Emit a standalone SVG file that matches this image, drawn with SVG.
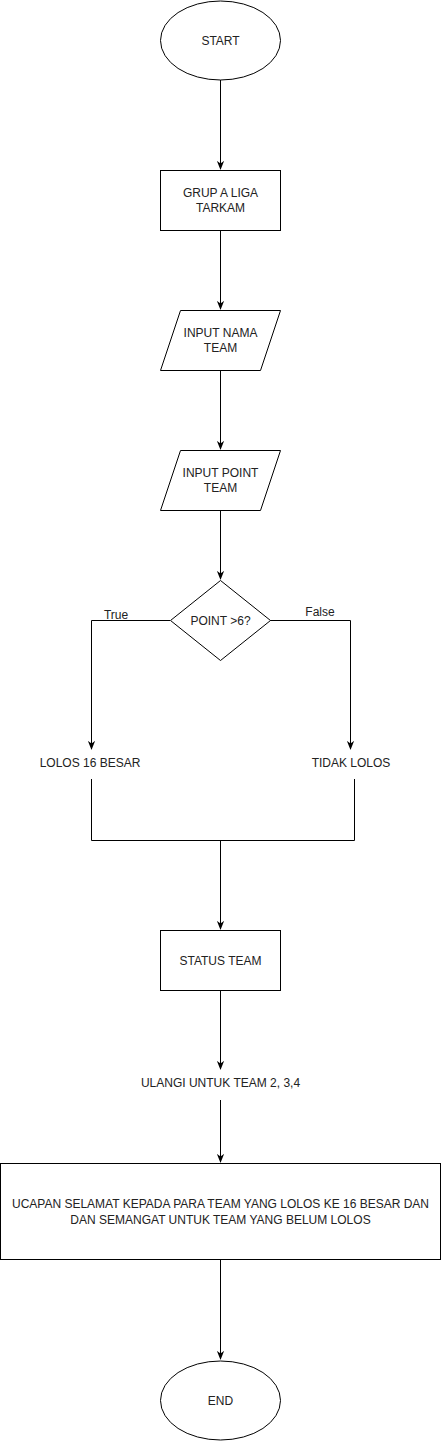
<svg xmlns="http://www.w3.org/2000/svg" width="441" height="1441" viewBox="0 0 441 1441">
<style>
.s{fill:#fff;stroke:#000;stroke-width:1}
.t{font-family:"Liberation Sans",Arial,sans-serif;font-size:12px;fill:#222;text-anchor:middle;dominant-baseline:central}
.c{fill:none;stroke:#000;stroke-width:1}
</style>
<defs>
<marker id="a" viewBox="0 0 10 10" refX="9" refY="5" markerWidth="9" markerHeight="9" markerUnits="userSpaceOnUse" orient="auto">
<path d="M0,1 L10,5 L0,9 L3,5 Z" fill="#000"/>
</marker>
</defs>
<rect width="441" height="1441" fill="#fff"/>
<g id="connectors">
<path class="c" d="M220.5,80 V169" marker-end="url(#a)"/>
<path class="c" d="M220.5,230 V309" marker-end="url(#a)"/>
<path class="c" d="M220.5,370 V449" marker-end="url(#a)"/>
<path class="c" d="M220.5,510 V579" marker-end="url(#a)"/>
<path class="c" d="M170,620.5 H91.5 V749" marker-end="url(#a)"/>
<path class="c" d="M270,620.5 H350.5 V749" marker-end="url(#a)"/>
<path class="c" d="M91.5,779 V840.5 H354.5 V779"/>
<path class="c" d="M220.5,840.5 V929" marker-end="url(#a)"/>
<path class="c" d="M220.5,990 V1069" marker-end="url(#a)"/>
<path class="c" d="M220.5,1100 V1162" marker-end="url(#a)"/>
<path class="c" d="M220.5,1260 V1359" marker-end="url(#a)"/>
<text class="t" x="116" y="615">True</text>
<text class="t" x="320" y="612">False</text>
</g>
<g id="start">
<ellipse class="s" cx="220.5" cy="40.5" rx="60" ry="39.5"/>
<text class="t" x="220.5" y="41">START</text>
</g>
<g id="grup">
<rect class="s" x="160.5" y="170.5" width="120" height="60"/>
<text class="t" x="220.5" y="193">GRUP A LIGA</text>
<text class="t" x="220.5" y="208">TARKAM</text>
</g>
<g id="input-nama">
<polygon class="s" points="180.5,310.5 280.5,310.5 260.5,370.5 160.5,370.5"/>
<text class="t" x="220.5" y="333">INPUT NAMA</text>
<text class="t" x="220.5" y="348">TEAM</text>
</g>
<g id="input-point">
<polygon class="s" points="180.5,450.5 280.5,450.5 260.5,510.5 160.5,510.5"/>
<text class="t" x="220.5" y="473">INPUT POINT</text>
<text class="t" x="220.5" y="488">TEAM</text>
</g>
<g id="decision">
<polygon class="s" points="220.5,580.5 270.5,620.5 220.5,660.5 170.5,620.5"/>
<text class="t" x="220.5" y="620.5">POINT &gt;6?</text>
</g>
<g id="lolos">
<text class="t" x="90" y="763">LOLOS 16 BESAR</text>
</g>
<g id="tidak-lolos">
<text class="t" x="351" y="763">TIDAK LOLOS</text>
</g>
<g id="status">
<rect class="s" x="160.5" y="930.5" width="120" height="60"/>
<text class="t" x="220.5" y="960.5">STATUS TEAM</text>
</g>
<g id="ulangi">
<text class="t" x="220.5" y="1083">ULANGI UNTUK TEAM 2, 3,4</text>
</g>
<g id="ucapan">
<rect class="s" x="0.5" y="1163.5" width="440" height="96"/>
<text class="t" x="220.5" y="1204">UCAPAN SELAMAT KEPADA PARA TEAM YANG LOLOS KE 16 BESAR DAN</text>
<text class="t" x="220.5" y="1220">DAN SEMANGAT UNTUK TEAM YANG BELUM LOLOS</text>
</g>
<g id="end">
<ellipse class="s" cx="220.5" cy="1400.5" rx="60" ry="39.5"/>
<text class="t" x="220.5" y="1400.5">END</text>
</g>
</svg>
